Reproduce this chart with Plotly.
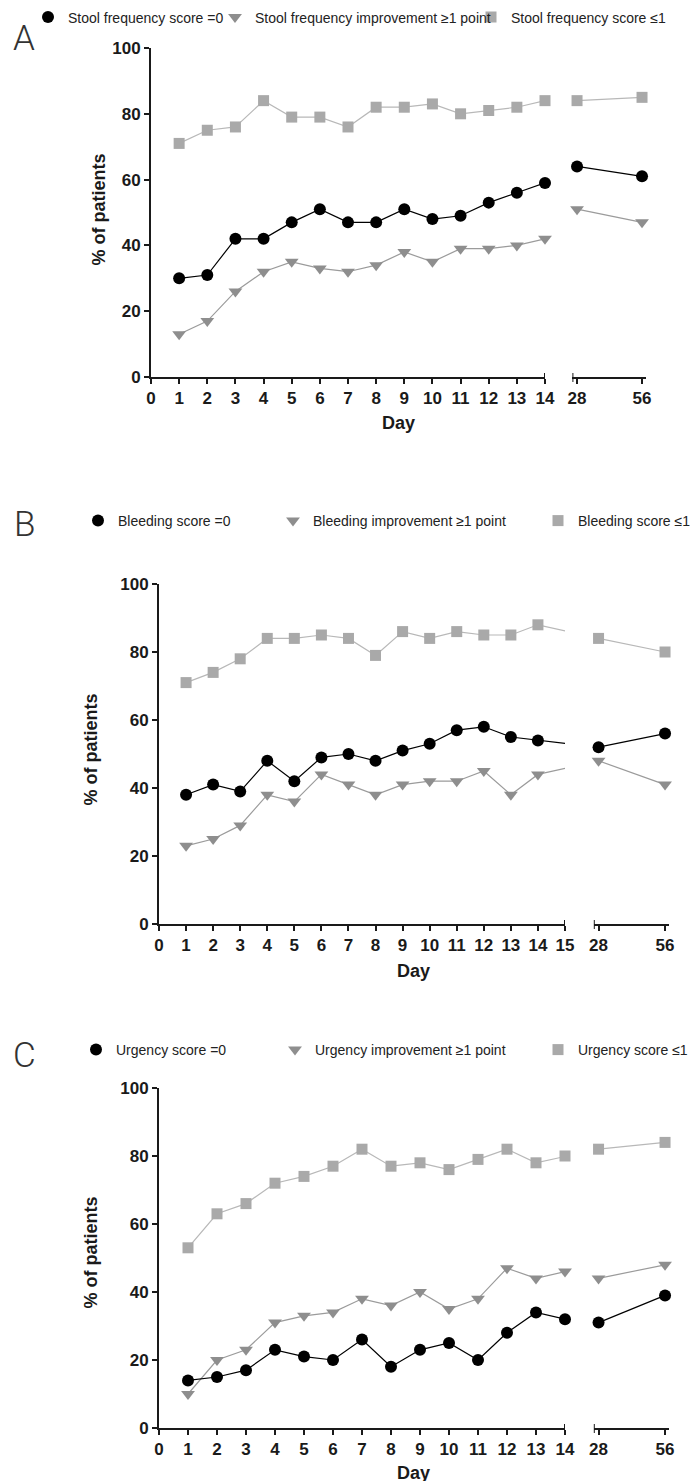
import plotly.graph_objects as go

W, H = 700, 1481

# x values: daily visits then the two late visits
days = list(range(1, 15))
late_days = [28, 56]

# panel A - stool frequency (% of patients), days 1-14 then 28, 56
stool_zero = [30, 31, 42, 42, 47, 51, 47, 47, 51, 48, 49, 53, 56, 59, 64, 61]
stool_impr = [13, 17, 26, 32, 35, 33, 32, 34, 38, 35, 39, 39, 40, 42, 51, 47]
stool_le1 = [71, 75, 76, 84, 79, 79, 76, 82, 82, 83, 80, 81, 82, 84, 84, 85]

# panel B - bleeding
bleed_zero = [38, 41, 39, 48, 42, 49, 50, 48, 51, 53, 57, 58, 55, 54, 52, 56]
bleed_impr = [23, 25, 29, 38, 36, 44, 41, 38, 41, 42, 42, 45, 38, 44, 48, 41]
bleed_le1 = [71, 74, 78, 84, 84, 85, 84, 79, 86, 84, 86, 85, 85, 88, 84, 80]

# panel C - urgency
urg_zero = [14, 15, 17, 23, 21, 20, 26, 18, 23, 25, 20, 28, 34, 32, 31, 39]
urg_impr = [10, 20, 23, 31, 33, 34, 38, 36, 40, 35, 38, 47, 44, 46, 44, 48]
urg_le1 = [53, 63, 66, 72, 74, 77, 82, 77, 78, 76, 79, 82, 78, 80, 82, 84]

y_ticks = [0, 20, 40, 60, 80, 100]
late_range = [26, 57.5]

FONT = 'Liberation Sans'
AXIS_COL = '#1a1a1a'


def px_x(p):
    return p / W


def px_y(p):
    return 1 - p / H


# layout of each panel in pixels (top/bottom of y axis, x positions of the axis pieces)
panels = [
    dict(letter='A', key='Stool frequency', data=(stool_zero, stool_impr, stool_le1),
         left_end=14, top=40, bottom=369, x0=143, x_brk=537, r0=564.4, r1=637.5,
         leg_y=9.5, leg_x=(60, 247, 503), letter_y=30.5, ytitle_x=90.5, ytitle_y=202, day_y=415),
    dict(letter='B', key='Bleeding', data=(bleed_zero, bleed_impr, bleed_le1),
         left_end=15, top=576, bottom=916, x0=151, x_brk=557, r0=585.8, r1=660.6,
         leg_y=513, leg_x=(110, 305, 570), letter_y=516, ytitle_x=82.5, ytitle_y=742, day_y=963),
    dict(letter='C', key='Urgency', data=(urg_zero, urg_impr, urg_le1),
         left_end=14, top=1080, bottom=1420, x0=151, x_brk=557, r0=585.8, r1=660.6,
         leg_y=1042, leg_x=(108, 307, 570), letter_y=1047, ytitle_x=82.5, ytitle_y=1245, day_y=1465),
]

styles = [
    dict(label='{} score =0', symbol='circle', size=12, fill='#000000', line='#000000'),
    dict(label='{} improvement ≥1 point', symbol='triangle-down', size=12, fill='#8e8e8e', line='#9b9b9b'),
    dict(label='{} score ≤1', symbol='square', size=11, fill='#a9a9a9', line='#b8b8b8'),
]

fig = go.Figure()
layout = {}
shapes = []
annotations = []
leg_n = 0

for i, p in enumerate(panels):
    xl = 'x' if i == 0 else f'x{2 * i + 1}'
    xr = f'x{2 * i + 2}'
    yk = 'y' if i == 0 else f'y{i + 1}'
    dom_y = [px_y(p['bottom']), px_y(p['top'])]

    # where day 28 sits in the units of the left axis (lines run across the break, clipped)
    px28 = p['r0'] + (late_days[0] - late_range[0]) / (late_range[1] - late_range[0]) * (p['r1'] - p['r0'])
    per_day = (p['x_brk'] - p['x0']) / p['left_end']
    x28_left = p['left_end'] + (px28 - p['x_brk']) / per_day

    for j in (2, 1, 0):
        st = styles[j]
        vals = p['data'][j]
        name = st['label'].format(p['key'])
        leg_n += 1
        leg_key = 'legend' if leg_n == 1 else f'legend{leg_n}'
        # line in the left piece, continuing toward day 28 and clipped at the break
        fig.add_trace(go.Scatter(x=days + [x28_left], y=vals[:15], mode='lines',
                                 line=dict(color=st['line'], width=1.2),
                                 xaxis=xl, yaxis=yk, showlegend=False, hoverinfo='skip'))
        fig.add_trace(go.Scatter(x=days, y=vals[:14], mode='markers', name=name,
                                 marker=dict(symbol=st['symbol'], size=st['size'], color=st['fill'],
                                             line=dict(width=0)),
                                 cliponaxis=False, xaxis=xl, yaxis=yk, legend=leg_key))
        fig.add_trace(go.Scatter(x=late_days, y=vals[14:], mode='lines+markers', name=name,
                                 line=dict(color=st['line'], width=1.2),
                                 marker=dict(symbol=st['symbol'], size=st['size'], color=st['fill'],
                                             line=dict(width=0)),
                                 cliponaxis=False, xaxis=xr, yaxis=yk, showlegend=False))
        layout[leg_key] = dict(x=px_x(p['leg_x'][j] - 40), xanchor='left', y=px_y(p['leg_y']),
                               yanchor='middle', orientation='h', bgcolor='rgba(0,0,0,0)',
                               font=dict(family=FONT, size=14, color='#222222'))

    axis_common = dict(showline=True, linecolor=AXIS_COL, linewidth=2, ticks='outside', ticklen=5,
                       tickwidth=2, tickcolor=AXIS_COL, showgrid=False, zeroline=False,
                       tickfont=dict(family=FONT, size=17, color=AXIS_COL, weight='bold'))
    layout['xaxis' if i == 0 else f'xaxis{2 * i + 1}'] = dict(
        axis_common, domain=[px_x(p['x0']), px_x(p['x_brk'])], range=[0, p['left_end']],
        tickvals=list(range(0, p['left_end'] + 1)), anchor=yk)
    layout[f'xaxis{2 * i + 2}'] = dict(
        axis_common, domain=[px_x(p['r0']), px_x(p['r1'])], range=late_range,
        tickvals=late_days, anchor=yk)
    layout['yaxis' if i == 0 else f'yaxis{i + 1}'] = dict(
        axis_common, domain=dom_y, range=[0, 100], tickvals=y_ticks, anchor=xl)

    # end caps of the broken x axis
    shapes.append(dict(type='line', xref=xl, yref='paper', x0=p['left_end'], x1=p['left_end'],
                       y0=px_y(p['bottom']), y1=px_y(p['bottom'] - 4), line=dict(color=AXIS_COL, width=2)))
    shapes.append(dict(type='line', xref=xr, yref='paper', x0=late_range[0], x1=late_range[0],
                       y0=px_y(p['bottom'] + 5), y1=px_y(p['bottom'] - 4), line=dict(color=AXIS_COL, width=2)))

    annotations.append(dict(text=p['letter'], x=px_x(16), y=px_y(p['letter_y']), xref='paper', yref='paper',
                            xanchor='center', yanchor='middle', showarrow=False,
                            font=dict(family='Roboto', size=35, color='#333333', weight=300)))
    annotations.append(dict(text='% of patients', textangle=-90, x=px_x(p['ytitle_x']), y=px_y(p['ytitle_y']),
                            xref='paper', yref='paper', xanchor='center', yanchor='middle', showarrow=False,
                            font=dict(family=FONT, size=18, color=AXIS_COL, weight='bold')))
    annotations.append(dict(text='Day', x=px_x((p['x0'] + p['r1']) / 2), y=px_y(p['day_y']),
                            xref='paper', yref='paper', xanchor='center', yanchor='middle', showarrow=False,
                            font=dict(family=FONT, size=18, color=AXIS_COL, weight='bold')))

fig.update_layout(
    width=W, height=H,
    margin=dict(l=0, r=0, t=0, b=0, autoexpand=False),
    paper_bgcolor='white', plot_bgcolor='white',
    shapes=shapes, annotations=annotations,
    **layout
)

fig.write_html('out.html')
